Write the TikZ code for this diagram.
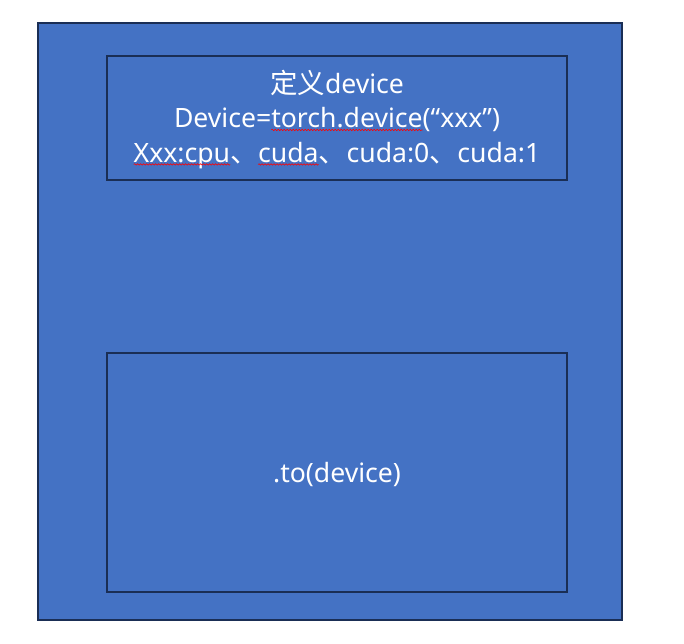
\documentclass[tikz,border=0pt]{standalone}
\usepackage{fontspec}
\setmainfont{Noto Sans}
\newfontfamily\cjk{Noto Sans CJK SC}
\usetikzlibrary{decorations.pathmorphing}
\definecolor{fillblue}{HTML}{4472C4}
\definecolor{edgenavy}{HTML}{1A2E55}
\tikzset{
  panel/.style={draw=edgenavy, line width=2pt, fill=fillblue, inner sep=0pt},
  label/.style={text=white, font=\fontsize{26.6}{34.5}\selectfont, align=center, inner sep=0pt},
  wavy/.style={draw=red, line width=0.6pt, decorate, decoration={snake, amplitude=0.7pt, segment length=3pt}}
}
\newcommand\redwave[1]{\tikz[baseline=(w.base)]{\node[inner sep=0pt, outer sep=0pt] (w) {#1};\draw[wavy, overlay] ([yshift=-2pt]w.base west) -- ([yshift=-2pt]w.base east);}}
\newcommand\dun{{\cjk\fontsize{28}{34.5}\selectfont 、}}
\begin{document}
\begin{tikzpicture}[x=1pt,y=-1pt]
\useasboundingbox (0,0) rectangle (684,643);
\node[panel, minimum width=583.5pt, minimum height=597.5pt] (outer) at (329.75,321.25) {};
\node[panel, minimum width=460pt, minimum height=124pt] (top) at (337,118) {};
\node[panel, minimum width=460pt, minimum height=238.5pt] (bottom) at (337,472.25) {};
\node[label] (toptext) at ([yshift=-1.5pt]top.center) {{\cjk\fontsize{27.5}{34.5}\selectfont 定义}device\\Device=\redwave{torch.device}(“xxx”)\\\redwave{Xxx:cpu}\dun\redwave{cuda}\dun cuda:0\dun cuda:1};
\node[label] (bottomtext) at ([yshift=-2.5pt]bottom.center) {.to(device)};
\end{tikzpicture}
\end{document}
